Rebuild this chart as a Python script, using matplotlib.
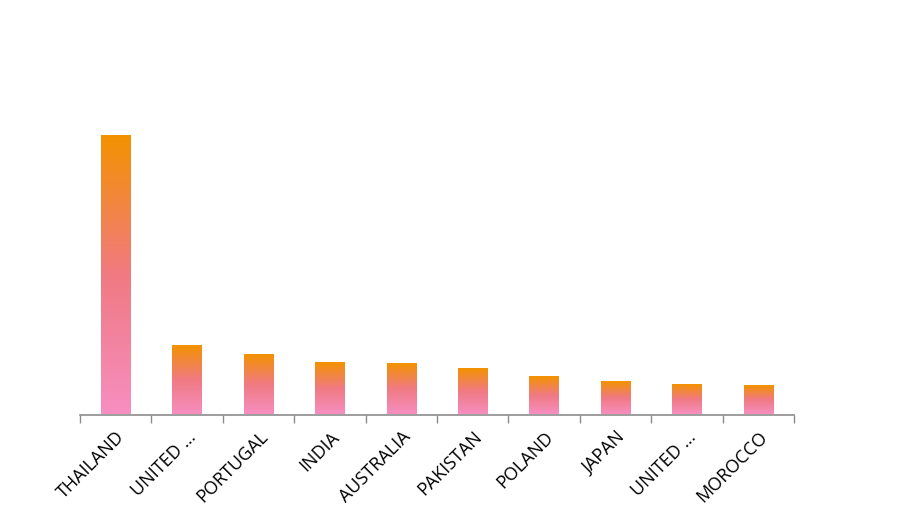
import numpy as np
import matplotlib
matplotlib.use("Agg")
import matplotlib.pyplot as plt
from matplotlib.colors import LinearSegmentedColormap

countries = ["THAILAND", "UNITED …", "PORTUGAL", "INDIA", "AUSTRALIA",
             "PAKISTAN", "POLAND", "JAPAN", "UNITED …", "MOROCCO"]
values = [279, 69, 60, 52, 51, 46, 38, 33, 30, 29]

plt.rcParams['font.family'] = ['Open Sans', 'DejaVu Sans']

fig = plt.figure(figsize=(9.18, 5.10), dpi=100)
ax = fig.add_axes([80 / 918, 94.5 / 510, 714 / 918, 395 / 510])

x = np.arange(len(countries))
bars = ax.bar(x, values, width=0.41, color="none", edgecolor="none")

cmap = LinearSegmentedColormap.from_list(
    "pinkorange", [(0.0, "#F68EC0"), (0.5, "#F07A82"), (1.0, "#F39200")])
grad = np.linspace(0, 1, 256).reshape(-1, 1)
for b in bars:
    x0, y0 = b.get_x(), b.get_y()
    ax.imshow(grad, cmap=cmap, origin="lower", aspect="auto",
              extent=[x0, x0 + b.get_width(), y0, y0 + b.get_height()],
              zorder=2)

ax.set_xlim(-0.5, len(countries) - 0.5)
ax.set_ylim(0, 395)

for s in ["top", "right", "left"]:
    ax.spines[s].set_visible(False)
ax.spines["bottom"].set_color("#8c8c8c")
ax.spines["bottom"].set_linewidth(1.2)
ax.set_yticks([])

ax.set_xticks(np.arange(len(countries) + 1) - 0.5, minor=False)
ax.set_xticklabels([])
ax.tick_params(axis="x", which="major", length=6, color="#8c8c8c", width=1)
ax.set_xticks(x, minor=True)
ax.set_xticklabels(countries, minor=True, rotation=45, ha="right",
                   rotation_mode="anchor", fontsize=13, color="#000000")
ax.tick_params(axis="x", which="minor", length=0, pad=9)

fig.savefig("out.png", dpi=100)
